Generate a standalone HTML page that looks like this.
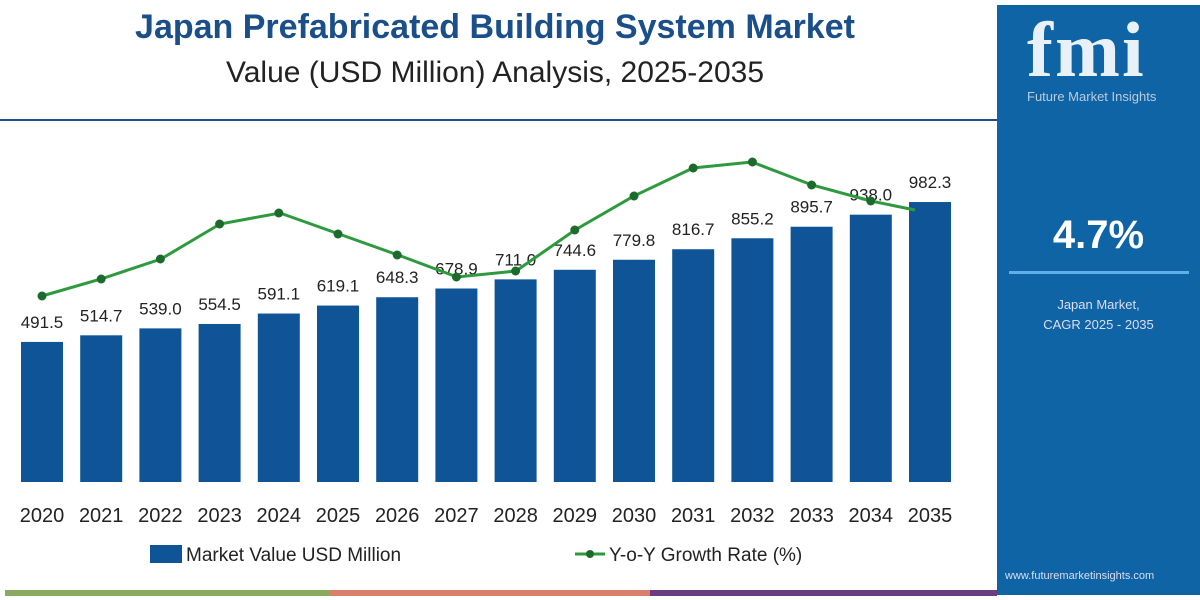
<!DOCTYPE html>
<html><head><meta charset="utf-8"><style>
body{margin:0;width:1200px;height:600px;background:#fff;overflow:hidden;font-family:"Liberation Sans",sans-serif;position:relative}
.t1{position:absolute;left:0;width:990px;top:8px;text-align:center;font-weight:bold;font-size:34px;color:#1a4f8a}
.t2{position:absolute;left:0;width:990px;top:56px;text-align:center;font-size:30px;color:#222}
.panel{position:absolute;left:997px;top:5px;width:203px;height:590px;background:#0f64a6}
</style></head><body>
<div class="t1">Japan Prefabricated Building System Market</div>
<div class="t2">Value (USD Million) Analysis, 2025-2035</div>
<div style="position:absolute;left:0;top:119px;width:997px;height:2px;background:#1a4f8a"></div>
<div class="panel">
 <div style="position:absolute;left:30px;top:0;font:bold 78px 'Liberation Serif',serif;color:#e8f0f8;letter-spacing:2px">fmi</div>
 <div style="position:absolute;left:30px;top:84px;font-size:13px;color:#bcd">Future Market Insights</div>
 <div style="position:absolute;left:0;width:203px;top:208px;text-align:center;font-weight:bold;font-size:40px;color:#fff">4.7%</div>
 <div style="position:absolute;left:12px;top:266px;width:180px;height:3px;background:#5fb0e8"></div>
 <div style="position:absolute;left:0;width:203px;top:290px;text-align:center;font-size:13px;color:#dde;line-height:20px">Japan Market,<br>CAGR 2025 - 2035</div>
 <div style="position:absolute;left:8px;top:565px;font-size:11px;color:#dde">www.futuremarketinsights.com</div>
</div>
<svg width="997" height="600" style="position:absolute;left:0;top:0">
<g fill="#0f5496" id="bars"></g>
<g id="lbl" font-size="17" fill="#222" text-anchor="middle"></g>
<polyline fill="none" stroke="#2e9a3e" stroke-width="3" points="42,296 101,279 161,259 220,224 280,213 339,234 398,255 457,277 516,271 575,230 634,196 693,168 752,162 812,185 871,201 915,210"/>
<g fill="#1d6b2c" id="dots"></g>
<g font-size="20" fill="#222" text-anchor="middle" id="yrs"></g>
<rect x="150" y="545" width="32" height="18" fill="#0f5496"/>
<text x="186" y="561" font-size="19" fill="#222">Market Value USD Million</text>
<line x1="575" y1="554" x2="605" y2="554" stroke="#2e9a3e" stroke-width="3"/>
<circle cx="590" cy="554" r="4" fill="#1d6b2c"/>
<text x="609" y="561" font-size="19" fill="#222">Y-o-Y Growth Rate (%)</text>
<rect x="5" y="590" width="325" height="6" fill="#8aaa60"/>
<rect x="330" y="590" width="320" height="6" fill="#d9806a"/>
<rect x="650" y="590" width="347" height="6" fill="#6a3d80"/>
</svg>
<script>
var v=[491.5,514.7,539.0,554.5,591.1,619.1,648.3,678.9,711.0,744.6,779.8,816.7,855.2,895.7,938.0,982.3];
var ly=[296,279,259,224,213,234,255,277,271,230,196,168,162,185,201];
var ns="http://www.w3.org/2000/svg",b=document.getElementById('bars'),l=document.getElementById('lbl'),d=document.getElementById('dots'),y=document.getElementById('yrs');
v.forEach(function(val,i){var cx=42+i*59.2,h=val*0.285,top=482-h;
var r=document.createElementNS(ns,'rect');r.setAttribute('x',cx-21);r.setAttribute('y',top);r.setAttribute('width',42);r.setAttribute('height',h);b.appendChild(r);
var t=document.createElementNS(ns,'text');t.setAttribute('x',cx);t.setAttribute('y',top-14);t.textContent=val.toFixed(1);l.appendChild(t);
var t2=document.createElementNS(ns,'text');t2.setAttribute('x',cx);t2.setAttribute('y',522);t2.textContent=2020+i;y.appendChild(t2);
if(i<15){var c=document.createElementNS(ns,'circle');c.setAttribute('cx',cx);c.setAttribute('cy',ly[i]);c.setAttribute('r',4.5);d.appendChild(c);}
});
</script>
</body></html>
